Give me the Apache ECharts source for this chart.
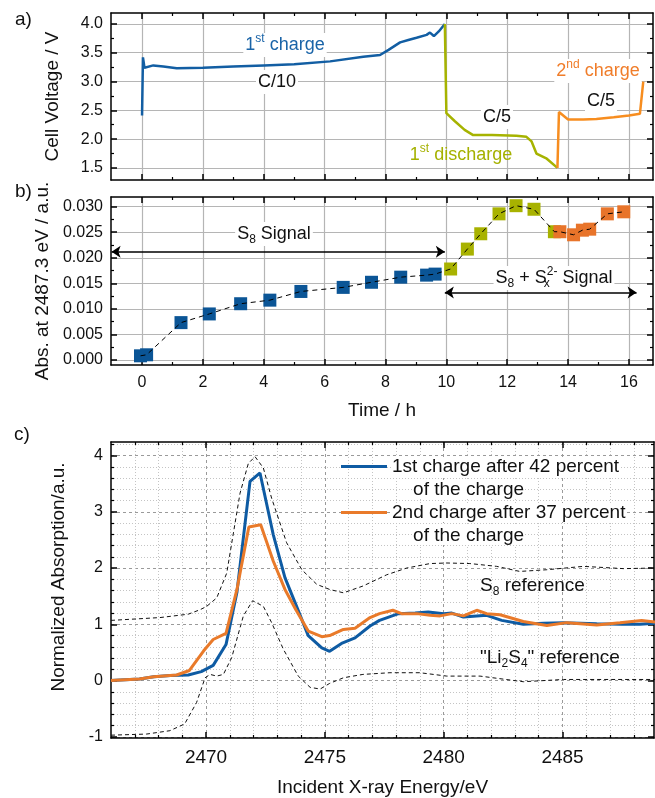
<!DOCTYPE html>
<html>
<head>
<meta charset="utf-8">
<script src="https://cdn.jsdelivr.net/npm/echarts@6/dist/echarts.min.js"></script>
<style>
  html, body { margin: 0; padding: 0; background: #fff; }
  #main { width: 655px; height: 798px; }
</style>
</head>
<body>
<div id="main"></div>
<script>
// a) cell voltage vs. time
const timeCharge1 = [0, 0.03, 0.08, 0.37, 0.7, 1.14, 2.0, 3.0, 4.0, 5.0, 6.18, 7.27, 7.82, 8.1, 8.48, 8.75, 9.02, 9.35, 9.46, 9.59, 9.75, 9.95];
const voltCharge1 = [2.41, 3.42, 3.24, 3.28, 3.26, 3.23, 3.24, 3.26, 3.28, 3.30, 3.35, 3.43, 3.46, 3.55, 3.68, 3.72, 3.76, 3.81, 3.85, 3.79, 3.87, 4.0];
const timeDischarge1 = [9.95, 10.0, 10.28, 10.6, 10.88, 11.5, 12.3, 12.63, 12.8, 12.96, 13.3, 13.65];
const voltDischarge1 = [4.0, 2.45, 2.31, 2.16, 2.07, 2.07, 2.06, 2.04, 1.96, 1.75, 1.66, 1.50];
const timeCharge2 = [13.65, 13.7, 14.0, 14.5, 14.93, 15.5, 16.0, 16.36, 16.47];
const voltCharge2 = [1.50, 2.47, 2.34, 2.34, 2.35, 2.38, 2.41, 2.44, 3.0];

// b) absorption at 2487.3 eV vs. time
const absTime1 = [-0.05, 0.15, 1.28, 2.21, 3.24, 4.2, 5.22, 6.61, 7.54, 8.5, 9.35, 9.63];
const absVal1 = [0.0008, 0.0010, 0.0073, 0.0090, 0.0110, 0.0117, 0.0134, 0.0142, 0.0152, 0.0162, 0.0166, 0.0168];
const absTime2 = [10.14, 10.69, 11.13, 11.73, 12.29, 12.88, 13.55];
const absVal2 = [0.0178, 0.0217, 0.0247, 0.0286, 0.0302, 0.0295, 0.0251];
const absTime3 = [13.73, 14.18, 14.47, 14.71, 15.29, 15.83];
const absVal3 = [0.0251, 0.0245, 0.0254, 0.0256, 0.0286, 0.0290];

// c) XANES spectra
const energyC1 = [2466.0, 2467.2, 2467.8, 2468.5, 2469.25, 2469.8, 2470.3, 2470.84, 2471.3, 2471.85, 2472.27, 2472.83, 2473.32, 2473.78, 2474.3, 2474.87, 2475.2, 2475.7, 2476.27, 2476.9, 2477.3, 2478.1, 2478.8, 2479.35, 2480.0, 2480.34, 2480.83, 2481.39, 2481.81, 2482.44, 2483.35, 2484.2, 2485.04, 2486.44, 2487.5, 2488.26, 2488.9];
const absC1 = [0.0, 0.03, 0.07, 0.09, 0.10, 0.16, 0.27, 0.64, 1.57, 3.54, 3.69, 2.59, 1.83, 1.35, 0.80, 0.58, 0.52, 0.66, 0.76, 0.97, 1.07, 1.19, 1.20, 1.22, 1.19, 1.20, 1.13, 1.15, 1.16, 1.07, 1.00, 1.02, 1.03, 1.01, 1.00, 1.00, 1.02];
const energyC2 = [2466.0, 2467.2, 2467.8, 2468.76, 2469.3, 2469.9, 2470.3, 2470.84, 2471.3, 2471.8, 2472.3, 2472.83, 2473.32, 2473.78, 2474.3, 2474.87, 2475.2, 2475.78, 2476.27, 2476.9, 2477.3, 2477.86, 2478.23, 2478.87, 2479.43, 2479.85, 2480.34, 2480.83, 2481.39, 2481.81, 2482.37, 2483.35, 2484.34, 2485.18, 2486.44, 2487.42, 2488.33, 2488.9];
const absC2 = [0.0, 0.03, 0.07, 0.10, 0.18, 0.53, 0.73, 0.84, 1.62, 2.73, 2.77, 2.12, 1.62, 1.26, 0.88, 0.78, 0.80, 0.91, 0.93, 1.12, 1.19, 1.25, 1.19, 1.19, 1.16, 1.15, 1.19, 1.15, 1.25, 1.19, 1.17, 1.05, 0.98, 1.03, 0.99, 1.03, 1.07, 1.04];
const energyS8 = [2466.0, 2468.06, 2469.25, 2469.75, 2470.03, 2470.45, 2470.87, 2471.43, 2471.78, 2472.06, 2472.41, 2472.76, 2473.39, 2474.03, 2474.66, 2475.2, 2475.78, 2476.6, 2477.6, 2478.44, 2479.43, 2480.13, 2481.1, 2482.23, 2483.2, 2484.34, 2485.88, 2487.56, 2488.9];
const absS8 = [1.07, 1.12, 1.18, 1.26, 1.32, 1.47, 1.91, 3.33, 3.86, 3.98, 3.78, 3.24, 2.45, 1.97, 1.71, 1.62, 1.56, 1.68, 1.88, 2.00, 2.08, 2.09, 2.08, 2.03, 1.94, 1.97, 2.03, 1.99, 2.00];
const energyLi2S4 = [2466.0, 2467.5, 2468.48, 2469.1, 2469.6, 2469.96, 2470.17, 2470.45, 2470.73, 2471.08, 2471.57, 2471.96, 2472.41, 2472.76, 2473.25, 2473.88, 2474.38, 2474.8, 2475.2, 2475.78, 2476.6, 2477.74, 2479.0, 2480.13, 2481.53, 2483.35, 2485.04, 2488.9];
const absLi2S4 = [-0.97, -0.95, -0.89, -0.77, -0.39, 0.05, 0.11, 0.08, 0.11, 0.41, 1.15, 1.42, 1.32, 1.03, 0.56, 0.08, -0.12, -0.15, -0.05, 0.05, 0.11, 0.14, 0.14, 0.08, 0.08, -0.02, 0.02, 0.02];

// tick values
const timeMajor = [0, 2, 4, 6, 8, 10, 12, 14, 16];
const timeMinor = [1, 3, 5, 7, 9, 11, 13, 15];
const voltMajor = [1.5, 2.0, 2.5, 3.0, 3.5, 4.0];
const voltMinor = [1.75, 2.25, 2.75, 3.25, 3.75];
const absMajor = [0, 0.005, 0.010, 0.015, 0.020, 0.025, 0.030];
const absMinor = [0.0025, 0.0075, 0.0125, 0.0175, 0.0225, 0.0275];
const energyMajor = [2470, 2475, 2480, 2485];
const energyMinor = [2467, 2468, 2469, 2471, 2472, 2473, 2474, 2476, 2477, 2478, 2479, 2481, 2482, 2483, 2484, 2486, 2487, 2488];
const normMajor = [-1, 0, 1, 2, 3, 4];
const normMinor = [-0.8, -0.6, -0.4, -0.2, 0.2, 0.4, 0.6, 0.8, 1.2, 1.4, 1.6, 1.8, 2.2, 2.4, 2.6, 2.8, 3.2, 3.4, 3.6, 3.8, 4.2];

const FF = 'Liberation Sans, Arial, sans-serif';
const pair = (xs, ys) => xs.map((x, i) => [x, ys[i]]);

const chart = echarts.init(document.getElementById('main'));

// 4 axes per dimension and grid: main + minor, on both sides (ticks inside)
function makeAxes(dim, grid, min, max, major, minor, o) {
    const sides = dim === 'x' ? ['bottom', 'top'] : ['left', 'right'];
    const out = [];
    sides.forEach((pos, i) => {
        out.push({
            type: 'value', gridIndex: grid, position: pos, min: min, max: max,
            name: i === 0 && o.name ? o.name : '',
            nameLocation: 'middle', nameGap: o.nameGap || 30,
            nameTextStyle: { fontSize: 19, fontFamily: FF, color: '#111', padding: o.namePad || 0 },
            axisLine: { show: true, onZero: false, lineStyle: { color: '#000', width: 1.5 } },
            axisTick: { show: true, inside: true, length: 6, customValues: major, lineStyle: { color: '#000', width: 1.5 } },
            axisLabel: {
                show: i === 0 && !!o.labels, customValues: major, formatter: o.fmt,
                fontSize: o.fontSize || 16, fontFamily: FF, color: '#111', margin: o.margin || 8
            },
            splitLine: i === 0 && o.splitMajor ? { show: true, lineStyle: o.splitMajor } : { show: false }
        });
        out.push({
            type: 'value', gridIndex: grid, position: pos, min: min, max: max,
            axisLine: { show: false, onZero: false },
            axisLabel: { show: false },
            axisTick: { show: true, inside: true, length: 3, customValues: minor, lineStyle: { color: '#000', width: 1.2 } },
            splitLine: i === 0 && o.splitMinor ? { show: true, lineStyle: o.splitMinor } : { show: false }
        });
    });
    return out;
}

const solidGrid = { color: '#b5b5b5', width: 1.2 };
const dashGrid = { color: '#9a9a9a', width: 1, type: [3, 3] };
const dotGrid = { color: '#c4c4c4', width: 1, type: [1, 2] };

const xAxes = [].concat(
    makeAxes('x', 0, -1.02, 16.79, timeMajor, timeMinor, { splitMajor: solidGrid }),
    makeAxes('x', 1, -1.02, 16.79, timeMajor, timeMinor, {
        labels: true, fmt: v => String(v), margin: 10, splitMajor: solidGrid,
        name: 'Time / h', nameGap: 36
    }),
    makeAxes('x', 2, 2466, 2488.85, energyMajor, energyMinor, {
        labels: true, fmt: v => String(v), fontSize: 19, margin: 10,
        splitMajor: dashGrid, splitMinor: dotGrid,
        name: 'Incident X-ray Energy/eV', nameGap: 40
    })
);
const yAxes = [].concat(
    makeAxes('y', 0, 1.29, 4.19, voltMajor, voltMinor, {
        labels: true, fmt: v => v.toFixed(1), splitMajor: solidGrid,
        name: 'Cell Voltage / V', nameGap: 49
    }),
    makeAxes('y', 1, -0.001, 0.0319, absMajor, absMinor, {
        labels: true, fmt: v => v.toFixed(3), splitMajor: solidGrid,
        name: 'Abs. at 2487.3 eV / a.u.', nameGap: 56
    }),
    makeAxes('y', 2, -1.02, 4.24, normMajor, normMinor, {
        labels: true, fmt: v => String(v), splitMajor: dashGrid, splitMinor: dotGrid,
        name: 'Normalized Absorption/a.u.', nameGap: 43, namePad: [0, 0, 0, 26]
    })
);

const RICH = {
    sup: { fontSize: 12, fontFamily: FF, verticalAlign: 'top', lineHeight: 12 },
    sub: { fontSize: 12, fontFamily: FF, verticalAlign: 'bottom', lineHeight: 12 },
    subx: { fontSize: 12, fontFamily: FF, verticalAlign: 'bottom', lineHeight: 12, width: 0 }
};
function note(x, y, text, color, opt) {
    opt = opt || {};
    return {
        type: 'text', x: x, y: y, z: 100,
        style: {
            text: text, fill: color || '#111', fontSize: opt.size || 18, fontFamily: FF,
            lineHeight: 24, align: opt.align || 'center', verticalAlign: 'middle',
            rich: RICH, backgroundColor: opt.bg === false ? 'transparent' : '#fff', padding: [0, 2]
        }
    };
}

const blueLine = '#125ea3', oliveLine = '#a6b300', orangeLine = '#f78d1f';
const blueSq = '#0b5596', oliveSq = '#a8b200', orangeSq = '#e8742a';
const blueC = '#0e5ba3', orangeC = '#e97a2a';

const name1 = '1st charge after 42 percent|of the charge';
const name2 = '2nd charge after 37 percent|of the charge';

const option = {
    backgroundColor: '#fff',
    animation: false,
    grid: [
        { left: 111, right: 2, top: 13, height: 167 },
        { left: 111, right: 2, top: 197, height: 168 },
        { left: 111, right: 1, top: 442, height: 297 }
    ],
    xAxis: xAxes,
    yAxis: yAxes,
    legend: {
        data: [name1, name2],
        orient: 'vertical', left: 341, top: 432, padding: 0,
        itemGap: -23, itemWidth: 46, itemHeight: 3, icon: 'rect',
        selectedMode: false,
        // empty first line keeps the icon level with the first text line
        formatter: n => {
            const parts = n.split('|');
            return '\n{t|' + parts[0] + '}\n    {t|' + parts[1] + '}';
        },
        textStyle: {
            fontSize: 19, fontFamily: FF, color: '#111', lineHeight: 23,
            rich: { t: { fontSize: 19, fontFamily: FF, color: '#111', lineHeight: 23, backgroundColor: '#fff' } }
        }
    },
    graphic: [
        note(13, 20, 'a)', '#111', { align: 'left', size: 19, bg: false }),
        note(13, 192, 'b)', '#111', { align: 'left', size: 19, bg: false }),
        note(12, 435, 'c)', '#111', { align: 'left', size: 19, bg: false }),
        note(285, 45, '1{sup|st} charge', '#1a64a8'),
        note(277, 82, 'C/10'),
        note(497, 117, 'C/5'),
        note(601, 101, 'C/5'),
        note(598, 71, '2{sup|nd} charge', '#f07d2a'),
        note(461, 155, '1{sup|st} discharge', '#a5b100', { bg: false }),
        note(274, 234, 'S{sub|8} Signal'),
        note(554, 278, 'S{sub|8} + S{subx|x}{sup|2-} Signal'),
        note(478, 586, 'S{sub|8} reference', '#111', { align: 'left', size: 19, bg: false }),
        note(478, 658, '"Li{sub|2}S{sub|4}" reference', '#111', { align: 'left', size: 19, bg: false })
    ],
    series: [
        // a)
        { type: 'line', xAxisIndex: 0, yAxisIndex: 0, data: pair(timeCharge1, voltCharge1), showSymbol: false, lineStyle: { color: blueLine, width: 2.5 } },
        { type: 'line', xAxisIndex: 0, yAxisIndex: 0, data: pair(timeDischarge1, voltDischarge1), showSymbol: false, lineStyle: { color: oliveLine, width: 2.5 } },
        { type: 'line', xAxisIndex: 0, yAxisIndex: 0, data: pair(timeCharge2, voltCharge2), showSymbol: false, lineStyle: { color: orangeLine, width: 2.5 } },
        // b)
        {
            type: 'line', xAxisIndex: 4, yAxisIndex: 4, showSymbol: false,
            data: pair(absTime1.concat(absTime2, absTime3), absVal1.concat(absVal2, absVal3)),
            lineStyle: { color: '#000', width: 1, type: [5, 4] },
            markLine: {
                silent: true, symbol: ['arrow', 'arrow'], symbolSize: 9,
                label: { show: false },
                lineStyle: { color: '#000', width: 1.5, type: 'solid' },
                data: [
                    [{ coord: [-1.0, 0.0212] }, { coord: [9.95, 0.0212] }],
                    [{ coord: [9.95, 0.0132] }, { coord: [16.25, 0.0132] }]
                ]
            }
        },
        { type: 'scatter', xAxisIndex: 4, yAxisIndex: 4, symbol: 'rect', symbolSize: 13, data: pair(absTime1, absVal1), itemStyle: { color: blueSq, opacity: 1 } },
        { type: 'scatter', xAxisIndex: 4, yAxisIndex: 4, symbol: 'rect', symbolSize: 13, data: pair(absTime2, absVal2), itemStyle: { color: oliveSq, opacity: 1 } },
        { type: 'scatter', xAxisIndex: 4, yAxisIndex: 4, symbol: 'rect', symbolSize: 13, data: pair(absTime3, absVal3), itemStyle: { color: orangeSq, opacity: 1 } },
        // c)
        { type: 'line', xAxisIndex: 8, yAxisIndex: 8, data: pair(energyS8, absS8), showSymbol: false, lineStyle: { color: '#111', width: 1, type: [4, 3] } },
        { type: 'line', xAxisIndex: 8, yAxisIndex: 8, data: pair(energyLi2S4, absLi2S4), showSymbol: false, lineStyle: { color: '#111', width: 1, type: [4, 3] } },
        { name: name1, type: 'line', xAxisIndex: 8, yAxisIndex: 8, data: pair(energyC1, absC1), showSymbol: false, color: blueC, lineStyle: { color: blueC, width: 3 } },
        { name: name2, type: 'line', xAxisIndex: 8, yAxisIndex: 8, data: pair(energyC2, absC2), showSymbol: false, color: orangeC, lineStyle: { color: orangeC, width: 3 } }
    ]
};

chart.setOption(option);
</script>
</body>
</html>
